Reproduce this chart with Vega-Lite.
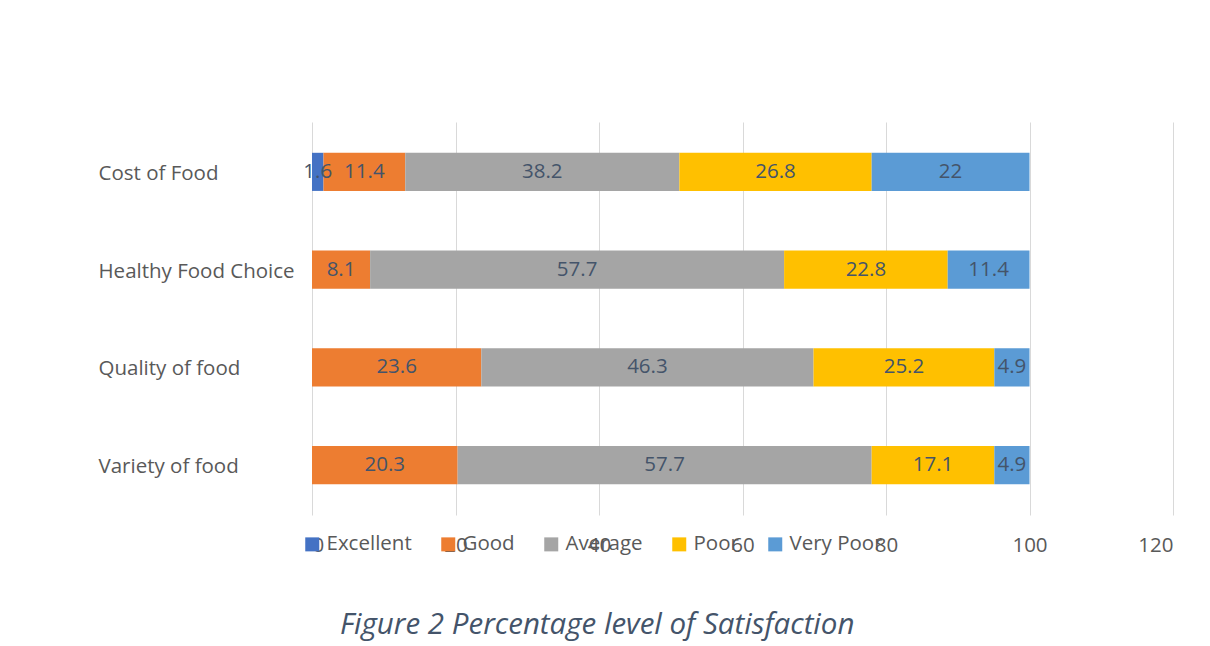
{
  "$schema": "https://vega.github.io/schema/vega-lite/v6.json",
  "autosize": {"type": "none"},
  "width": 861,
  "height": 393,
  "padding": {"left": 312, "top": 122, "right": 37, "bottom": 131},
  "background": "white",
  "config": {"view": {"stroke": null}},
  "title": {
    "text": "Figure 2 Percentage level of Satisfaction",
    "orient": "bottom",
    "anchor": "start",
    "frame": "group",
    "dx": 28,
    "offset": 55,
    "font": "Open Sans",
    "fontStyle": "italic",
    "fontWeight": "normal",
    "fontSize": 29.5,
    "color": "#44546A"
  },
  "data": {
    "values": [
      {"item": "Cost of Food", "level": "Excellent", "value": 1.6},
      {"item": "Cost of Food", "level": "Good", "value": 11.4},
      {"item": "Cost of Food", "level": "Average", "value": 38.2},
      {"item": "Cost of Food", "level": "Poor", "value": 26.8},
      {"item": "Cost of Food", "level": "Very Poor", "value": 22},
      {"item": "Healthy Food Choice", "level": "Good", "value": 8.1},
      {"item": "Healthy Food Choice", "level": "Average", "value": 57.7},
      {"item": "Healthy Food Choice", "level": "Poor", "value": 22.8},
      {"item": "Healthy Food Choice", "level": "Very Poor", "value": 11.4},
      {"item": "Quality of food", "level": "Good", "value": 23.6},
      {"item": "Quality of food", "level": "Average", "value": 46.3},
      {"item": "Quality of food", "level": "Poor", "value": 25.2},
      {"item": "Quality of food", "level": "Very Poor", "value": 4.9},
      {"item": "Variety of food", "level": "Good", "value": 20.3},
      {"item": "Variety of food", "level": "Average", "value": 57.7},
      {"item": "Variety of food", "level": "Poor", "value": 17.1},
      {"item": "Variety of food", "level": "Very Poor", "value": 4.9}
    ]
  },
  "transform": [
    {"calculate": "indexof(['Excellent','Good','Average','Poor','Very Poor'], datum.level)", "as": "ord"},
    {"stack": "value", "groupby": ["item"], "sort": [{"field": "ord", "order": "ascending"}], "as": ["v0", "v1"]},
    {"calculate": "(datum.v0 + datum.v1) / 2", "as": "mid"}
  ],
  "encoding": {
    "y": {
      "field": "item",
      "type": "nominal",
      "sort": ["Cost of Food", "Healthy Food Choice", "Quality of food", "Variety of food"],
      "scale": {"paddingInner": 0.61, "paddingOuter": 0.315},
      "axis": {
        "title": null,
        "domain": false,
        "ticks": false,
        "labelAlign": "left",
        "labelPadding": 214,
        "labelLimit": 400,
        "labelOffset": 2,
        "labelFont": "Open Sans",
        "labelFontSize": 20.5,
        "labelColor": "#595959"
      }
    }
  },
  "layer": [
    {
      "mark": {"type": "bar"},
      "encoding": {
        "x": {
          "field": "v0",
          "type": "quantitative",
          "scale": {"domain": [0, 120], "nice": false},
          "axis": {
            "title": null,
            "values": [0, 20, 40, 60, 80, 100, 120],
            "domain": false,
            "ticks": false,
            "grid": true,
            "gridColor": "#D9D9D9",
            "gridWidth": 1,
            "labelPadding": 20,
            "labelFont": "Open Sans",
            "labelFontSize": 20.5,
            "labelColor": "#595959"
          }
        },
        "x2": {"field": "v1"},
        "color": {
          "field": "level",
          "type": "nominal",
          "scale": {
            "domain": ["Excellent", "Good", "Average", "Poor", "Very Poor"],
            "range": ["#4472C4", "#ED7D31", "#A5A5A5", "#FFC000", "#5B9BD5"]
          },
          "legend": {
            "title": null,
            "orient": "none",
            "direction": "horizontal",
            "legendX": -10,
            "legendY": 412,
            "symbolType": "square",
            "symbolSize": 196,
            "symbolStrokeWidth": 0,
            "symbolOpacity": 1,
            "labelFont": "Open Sans",
            "labelFontSize": 20.5,
            "labelColor": "#595959",
            "columnPadding": 26,
            "labelOffset": 4
          }
        }
      }
    },
    {
      "mark": {"type": "text", "font": "Open Sans", "fontSize": 20.5, "color": "#44546A"},
      "encoding": {
        "x": {"field": "mid", "type": "quantitative"},
        "text": {"field": "value", "type": "quantitative"}
      }
    }
  ]
}
